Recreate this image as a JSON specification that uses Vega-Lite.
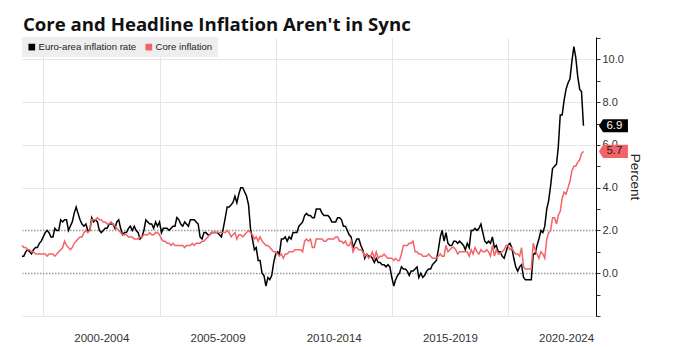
{
"$schema": "https://vega.github.io/schema/vega-lite/v6.json",
"width": 574, "height": 279,
"autosize": {"type": "none"},
"padding": {"left": 22, "top": 37, "right": 79, "bottom": 31},
"background": "white",
"title": {"text": "Core and Headline Inflation Aren't in Sync", "anchor": "start", "frame": "group", "font": "Open Sans", "fontSize": 18.6, "fontWeight": "bold", "color": "#111111", "offset": 8, "baseline": "alphabetic", "dx": 1, "dy": 26},
"config": {"view": {"stroke": null}, "font": "Liberation Sans"},
"datasets": {"infl": [
{"d":"1999-01-31","h":0.8,"c":1.3},{"d":"1999-02-28","h":0.8,"c":1.2},{"d":"1999-03-31","h":1.0,"c":1.2},{"d":"1999-04-30","h":1.1,"c":1.1},{"d":"1999-05-31","h":1.0,"c":1.1},{"d":"1999-06-30","h":0.9,"c":1.0},{"d":"1999-07-31","h":1.1,"c":1.0},{"d":"1999-08-31","h":1.2,"c":0.9},{"d":"1999-09-30","h":1.2,"c":0.9},{"d":"1999-10-31","h":1.4,"c":0.9},{"d":"1999-11-30","h":1.5,"c":0.9},{"d":"1999-12-31","h":1.7,"c":0.9},
{"d":"2000-01-31","h":1.9,"c":0.9},{"d":"2000-02-28","h":2.0,"c":0.8},{"d":"2000-03-31","h":1.9,"c":0.9},{"d":"2000-04-30","h":1.7,"c":0.9},{"d":"2000-05-31","h":1.7,"c":0.9},{"d":"2000-06-30","h":2.1,"c":0.8},{"d":"2000-07-31","h":2.0,"c":0.9},{"d":"2000-08-31","h":2.0,"c":1.0},{"d":"2000-09-30","h":2.5,"c":1.1},{"d":"2000-10-31","h":2.4,"c":1.2},{"d":"2000-11-30","h":2.5,"c":1.5},{"d":"2000-12-31","h":2.5,"c":1.3},
{"d":"2001-01-31","h":2.0,"c":1.2},{"d":"2001-02-28","h":2.2,"c":1.1},{"d":"2001-03-31","h":2.4,"c":1.2},{"d":"2001-04-30","h":2.8,"c":1.4},{"d":"2001-05-31","h":3.1,"c":1.5},{"d":"2001-06-30","h":2.8,"c":1.6},{"d":"2001-07-31","h":2.5,"c":1.7},{"d":"2001-08-31","h":2.3,"c":1.7},{"d":"2001-09-30","h":2.2,"c":1.9},{"d":"2001-10-31","h":2.3,"c":2.0},{"d":"2001-11-30","h":2.0,"c":1.9},{"d":"2001-12-31","h":2.0,"c":2.0},
{"d":"2002-01-31","h":2.6,"c":2.5},{"d":"2002-02-28","h":2.4,"c":2.5},{"d":"2002-03-31","h":2.5,"c":2.5},{"d":"2002-04-30","h":2.4,"c":2.6},{"d":"2002-05-31","h":2.0,"c":2.5},{"d":"2002-06-30","h":1.9,"c":2.5},{"d":"2002-07-31","h":2.0,"c":2.4},{"d":"2002-08-31","h":2.1,"c":2.4},{"d":"2002-09-30","h":2.1,"c":2.3},{"d":"2002-10-31","h":2.3,"c":2.3},{"d":"2002-11-30","h":2.3,"c":2.4},{"d":"2002-12-31","h":2.3,"c":2.3},
{"d":"2003-01-31","h":2.1,"c":2.2},{"d":"2003-02-28","h":2.4,"c":2.1},{"d":"2003-03-31","h":2.5,"c":2.0},{"d":"2003-04-30","h":2.1,"c":1.9},{"d":"2003-05-31","h":1.8,"c":1.8},{"d":"2003-06-30","h":1.9,"c":1.8},{"d":"2003-07-31","h":1.9,"c":1.8},{"d":"2003-08-31","h":2.1,"c":1.7},{"d":"2003-09-30","h":2.2,"c":1.7},{"d":"2003-10-31","h":2.0,"c":1.7},{"d":"2003-11-30","h":2.2,"c":1.6},{"d":"2003-12-31","h":2.0,"c":1.6},
{"d":"2004-01-31","h":1.9,"c":1.6},{"d":"2004-02-28","h":1.6,"c":1.7},{"d":"2004-03-31","h":1.7,"c":1.7},{"d":"2004-04-30","h":2.0,"c":1.8},{"d":"2004-05-31","h":2.5,"c":1.8},{"d":"2004-06-30","h":2.4,"c":1.8},{"d":"2004-07-31","h":2.3,"c":1.9},{"d":"2004-08-31","h":2.3,"c":1.8},{"d":"2004-09-30","h":2.1,"c":1.8},{"d":"2004-10-31","h":2.4,"c":1.9},{"d":"2004-11-30","h":2.2,"c":1.9},{"d":"2004-12-31","h":2.4,"c":1.8},
{"d":"2005-01-31","h":1.9,"c":1.6},{"d":"2005-02-28","h":2.1,"c":1.5},{"d":"2005-03-31","h":2.1,"c":1.5},{"d":"2005-04-30","h":2.1,"c":1.4},{"d":"2005-05-31","h":2.0,"c":1.4},{"d":"2005-06-30","h":2.1,"c":1.3},{"d":"2005-07-31","h":2.2,"c":1.4},{"d":"2005-08-31","h":2.2,"c":1.3},{"d":"2005-09-30","h":2.6,"c":1.3},{"d":"2005-10-31","h":2.5,"c":1.3},{"d":"2005-11-30","h":2.3,"c":1.3},{"d":"2005-12-31","h":2.2,"c":1.3},
{"d":"2006-01-31","h":2.4,"c":1.2},{"d":"2006-02-28","h":2.3,"c":1.3},{"d":"2006-03-31","h":2.2,"c":1.3},{"d":"2006-04-30","h":2.5,"c":1.3},{"d":"2006-05-31","h":2.5,"c":1.4},{"d":"2006-06-30","h":2.5,"c":1.3},{"d":"2006-07-31","h":2.4,"c":1.4},{"d":"2006-08-31","h":2.3,"c":1.4},{"d":"2006-09-30","h":1.7,"c":1.4},{"d":"2006-10-31","h":1.6,"c":1.5},{"d":"2006-11-30","h":1.9,"c":1.5},{"d":"2006-12-31","h":1.9,"c":1.6},
{"d":"2007-01-31","h":1.8,"c":1.7},{"d":"2007-02-28","h":1.8,"c":1.8},{"d":"2007-03-31","h":1.9,"c":1.9},{"d":"2007-04-30","h":1.9,"c":1.9},{"d":"2007-05-31","h":1.9,"c":1.9},{"d":"2007-06-30","h":1.9,"c":1.9},{"d":"2007-07-31","h":1.8,"c":1.9},{"d":"2007-08-31","h":1.7,"c":1.9},{"d":"2007-09-30","h":2.1,"c":1.9},{"d":"2007-10-31","h":2.6,"c":1.9},{"d":"2007-11-30","h":3.1,"c":2.0},{"d":"2007-12-31","h":3.1,"c":1.9},
{"d":"2008-01-31","h":3.2,"c":1.7},{"d":"2008-02-28","h":3.3,"c":1.8},{"d":"2008-03-31","h":3.6,"c":1.9},{"d":"2008-04-30","h":3.3,"c":1.6},{"d":"2008-05-31","h":3.7,"c":1.8},{"d":"2008-06-30","h":4.0,"c":1.8},{"d":"2008-07-31","h":4.0,"c":1.7},{"d":"2008-08-31","h":3.8,"c":1.8},{"d":"2008-09-30","h":3.6,"c":1.9},{"d":"2008-10-31","h":3.2,"c":2.0},{"d":"2008-11-30","h":2.1,"c":1.9},{"d":"2008-12-31","h":1.6,"c":1.8},
{"d":"2009-01-31","h":1.1,"c":1.6},{"d":"2009-02-28","h":1.2,"c":1.7},{"d":"2009-03-31","h":0.6,"c":1.5},{"d":"2009-04-30","h":0.6,"c":1.7},{"d":"2009-05-31","h":0.0,"c":1.5},{"d":"2009-06-30","h":-0.1,"c":1.4},{"d":"2009-07-31","h":-0.6,"c":1.3},{"d":"2009-08-31","h":-0.2,"c":1.3},{"d":"2009-09-30","h":-0.3,"c":1.2},{"d":"2009-10-31","h":-0.1,"c":1.1},{"d":"2009-11-30","h":0.5,"c":1.0},{"d":"2009-12-31","h":0.9,"c":1.0},
{"d":"2010-01-31","h":1.0,"c":0.9},{"d":"2010-02-28","h":0.9,"c":0.8},{"d":"2010-03-31","h":1.6,"c":0.9},{"d":"2010-04-30","h":1.6,"c":0.7},{"d":"2010-05-31","h":1.7,"c":0.9},{"d":"2010-06-30","h":1.5,"c":0.9},{"d":"2010-07-31","h":1.7,"c":1.0},{"d":"2010-08-31","h":1.6,"c":1.0},{"d":"2010-09-30","h":1.9,"c":1.0},{"d":"2010-10-31","h":1.9,"c":1.1},{"d":"2010-11-30","h":1.9,"c":1.1},{"d":"2010-12-31","h":2.2,"c":1.1},
{"d":"2011-01-31","h":2.3,"c":1.1},{"d":"2011-02-28","h":2.4,"c":1.0},{"d":"2011-03-31","h":2.7,"c":1.5},{"d":"2011-04-30","h":2.8,"c":1.6},{"d":"2011-05-31","h":2.7,"c":1.5},{"d":"2011-06-30","h":2.7,"c":1.6},{"d":"2011-07-31","h":2.6,"c":1.2},{"d":"2011-08-31","h":2.6,"c":1.2},{"d":"2011-09-30","h":3.0,"c":1.6},{"d":"2011-10-31","h":3.0,"c":1.6},{"d":"2011-11-30","h":3.0,"c":1.6},{"d":"2011-12-31","h":2.8,"c":1.6},
{"d":"2012-01-31","h":2.7,"c":1.5},{"d":"2012-02-28","h":2.7,"c":1.5},{"d":"2012-03-31","h":2.7,"c":1.6},{"d":"2012-04-30","h":2.6,"c":1.6},{"d":"2012-05-31","h":2.4,"c":1.6},{"d":"2012-06-30","h":2.4,"c":1.6},{"d":"2012-07-31","h":2.4,"c":1.7},{"d":"2012-08-31","h":2.6,"c":1.7},{"d":"2012-09-30","h":2.6,"c":1.5},{"d":"2012-10-31","h":2.5,"c":1.5},{"d":"2012-11-30","h":2.2,"c":1.4},{"d":"2012-12-31","h":2.2,"c":1.5},
{"d":"2013-01-31","h":2.0,"c":1.3},{"d":"2013-02-28","h":1.8,"c":1.3},{"d":"2013-03-31","h":1.7,"c":1.5},{"d":"2013-04-30","h":1.2,"c":1.0},{"d":"2013-05-31","h":1.4,"c":1.2},{"d":"2013-06-30","h":1.6,"c":1.2},{"d":"2013-07-31","h":1.6,"c":1.1},{"d":"2013-08-31","h":1.3,"c":1.1},{"d":"2013-09-30","h":1.1,"c":1.0},{"d":"2013-10-31","h":0.7,"c":0.8},{"d":"2013-11-30","h":0.9,"c":0.9},{"d":"2013-12-31","h":0.8,"c":0.7},
{"d":"2014-01-31","h":0.8,"c":0.8},{"d":"2014-02-28","h":0.7,"c":1.0},{"d":"2014-03-31","h":0.5,"c":0.7},{"d":"2014-04-30","h":0.7,"c":1.0},{"d":"2014-05-31","h":0.5,"c":0.7},{"d":"2014-06-30","h":0.5,"c":0.8},{"d":"2014-07-31","h":0.4,"c":0.8},{"d":"2014-08-31","h":0.4,"c":0.9},{"d":"2014-09-30","h":0.3,"c":0.8},{"d":"2014-10-31","h":0.4,"c":0.7},{"d":"2014-11-30","h":0.3,"c":0.7},{"d":"2014-12-31","h":-0.2,"c":0.7},
{"d":"2015-01-31","h":-0.6,"c":0.6},{"d":"2015-02-28","h":-0.3,"c":0.7},{"d":"2015-03-31","h":-0.1,"c":0.6},{"d":"2015-04-30","h":0.0,"c":0.6},{"d":"2015-05-31","h":0.3,"c":0.9},{"d":"2015-06-30","h":0.2,"c":1.3},{"d":"2015-07-31","h":0.2,"c":1.3},{"d":"2015-08-31","h":0.1,"c":1.3},{"d":"2015-09-30","h":-0.1,"c":1.4},{"d":"2015-10-31","h":0.1,"c":1.4},{"d":"2015-11-30","h":0.1,"c":1.5},{"d":"2015-12-31","h":0.2,"c":1.0},
{"d":"2016-01-31","h":0.3,"c":1.0},{"d":"2016-02-28","h":-0.2,"c":0.9},{"d":"2016-03-31","h":0.0,"c":0.9},{"d":"2016-04-30","h":-0.2,"c":0.8},{"d":"2016-05-31","h":-0.1,"c":0.8},{"d":"2016-06-30","h":0.1,"c":0.8},{"d":"2016-07-31","h":0.2,"c":0.9},{"d":"2016-08-31","h":0.2,"c":0.8},{"d":"2016-09-30","h":0.4,"c":0.7},{"d":"2016-10-31","h":0.5,"c":0.7},{"d":"2016-11-30","h":0.6,"c":0.7},{"d":"2016-12-31","h":1.1,"c":0.8},
{"d":"2017-01-31","h":1.7,"c":0.9},{"d":"2017-02-28","h":2.0,"c":0.8},{"d":"2017-03-31","h":1.5,"c":0.8},{"d":"2017-04-30","h":1.9,"c":1.3},{"d":"2017-05-31","h":1.4,"c":1.0},{"d":"2017-06-30","h":1.3,"c":1.1},{"d":"2017-07-31","h":1.3,"c":1.2},{"d":"2017-08-31","h":1.5,"c":1.2},{"d":"2017-09-30","h":1.5,"c":1.1},{"d":"2017-10-31","h":1.4,"c":0.9},{"d":"2017-11-30","h":1.5,"c":1.0},{"d":"2017-12-31","h":1.4,"c":1.0},
{"d":"2018-01-31","h":1.3,"c":1.0},{"d":"2018-02-28","h":1.1,"c":1.0},{"d":"2018-03-31","h":1.4,"c":1.0},{"d":"2018-04-30","h":1.2,"c":0.8},{"d":"2018-05-31","h":2.0,"c":1.1},{"d":"2018-06-30","h":2.0,"c":0.9},{"d":"2018-07-31","h":2.1,"c":1.2},{"d":"2018-08-31","h":2.0,"c":1.0},{"d":"2018-09-30","h":2.1,"c":0.9},{"d":"2018-10-31","h":2.3,"c":1.1},{"d":"2018-11-30","h":1.9,"c":1.0},{"d":"2018-12-31","h":1.5,"c":1.0},
{"d":"2019-01-31","h":1.4,"c":1.1},{"d":"2019-02-28","h":1.5,"c":1.0},{"d":"2019-03-31","h":1.4,"c":0.8},{"d":"2019-04-30","h":1.7,"c":1.3},{"d":"2019-05-31","h":1.2,"c":0.8},{"d":"2019-06-30","h":1.3,"c":1.1},{"d":"2019-07-31","h":1.0,"c":0.9},{"d":"2019-08-31","h":1.0,"c":0.9},{"d":"2019-09-30","h":0.8,"c":1.0},{"d":"2019-10-31","h":0.7,"c":1.1},{"d":"2019-11-30","h":1.0,"c":1.3},{"d":"2019-12-31","h":1.3,"c":1.3},
{"d":"2020-01-31","h":1.4,"c":1.1},{"d":"2020-02-28","h":1.2,"c":1.2},{"d":"2020-03-31","h":0.7,"c":1.0},{"d":"2020-04-30","h":0.3,"c":0.9},{"d":"2020-05-31","h":0.1,"c":0.9},{"d":"2020-06-30","h":0.3,"c":0.8},{"d":"2020-07-31","h":0.4,"c":1.2},{"d":"2020-08-31","h":-0.2,"c":0.3},{"d":"2020-09-30","h":-0.3,"c":0.2},{"d":"2020-10-31","h":-0.3,"c":0.2},{"d":"2020-11-30","h":-0.3,"c":0.2},{"d":"2020-12-31","h":-0.3,"c":0.2},
{"d":"2021-01-31","h":0.9,"c":1.4},{"d":"2021-02-28","h":0.9,"c":1.1},{"d":"2021-03-31","h":1.3,"c":0.9},{"d":"2021-04-30","h":1.6,"c":0.7},{"d":"2021-05-31","h":2.0,"c":1.0},{"d":"2021-06-30","h":1.9,"c":0.9},{"d":"2021-07-31","h":2.2,"c":0.7},{"d":"2021-08-31","h":3.0,"c":1.6},{"d":"2021-09-30","h":3.4,"c":1.9},{"d":"2021-10-31","h":4.1,"c":2.0},{"d":"2021-11-30","h":4.9,"c":2.6},{"d":"2021-12-31","h":5.0,"c":2.6},
{"d":"2022-01-31","h":5.1,"c":2.3},{"d":"2022-02-28","h":5.9,"c":2.7},{"d":"2022-03-31","h":7.4,"c":2.9},{"d":"2022-04-30","h":7.4,"c":3.5},{"d":"2022-05-31","h":8.1,"c":3.8},{"d":"2022-06-30","h":8.6,"c":3.7},{"d":"2022-07-31","h":8.9,"c":4.0},{"d":"2022-08-31","h":9.1,"c":4.3},{"d":"2022-09-30","h":9.9,"c":4.8},{"d":"2022-10-31","h":10.6,"c":5.0},{"d":"2022-11-30","h":10.1,"c":5.0},{"d":"2022-12-31","h":9.2,"c":5.2},
{"d":"2023-01-31","h":8.6,"c":5.3},{"d":"2023-02-28","h":8.5,"c":5.6},{"d":"2023-03-31","h":6.9,"c":5.7}
]},
"data": {"name": "infl"},
"transform": [{"fold": ["h", "c"], "as": ["key", "value"]}],
"encoding": {
  "x": {"field": "d", "type": "temporal",
    "scale": {"domain": [{"year": 1999, "month": 1, "date": 31, "utc": true}, {"year": 2023, "month": 10, "date": 14, "utc": true}]},
    "axis": {"values": [{"year": 2000, "month": 1, "date": 1, "utc": true}, {"year": 2005, "month": 1, "date": 1, "utc": true}, {"year": 2010, "month": 1, "date": 1, "utc": true}, {"year": 2015, "month": 1, "date": 1, "utc": true}, {"year": 2020, "month": 1, "date": 1, "utc": true}],
      "labelExpr": "utcFormat(datum.value, '%Y') + '-' + (utcyear(datum.value) + 4)",
      "labelOffset": 58, "grid": true, "gridColor": "#e6e6e6", "ticks": false, "domain": false,
      "labelPadding": 16, "labelFontSize": 11.5, "labelColor": "#333333", "title": null, "labelFlush": false, "labelOverlap": false}},
  "y": {"field": "value", "type": "quantitative",
    "scale": {"domain": [-2, 11.05], "nice": false, "zero": false},
    "axis": {"orient": "right", "values": [-2, -1, 0, 1, 2, 3, 4, 5, 6, 7, 8, 9, 10, 11],
      "labelExpr": "datum.value >= 0 && datum.value % 2 == 0 ? format(datum.value, '.1f') : ''",
      "grid": true,
      "gridColor": {"condition": {"test": "datum.value == 0 || datum.value == 2", "value": "#9a9a9a"}, "value": "#e6e6e6"},
      "gridDash": {"condition": {"test": "datum.value == 0 || datum.value == 2", "value": [1.5, 1.5]}, "value": []},
      "gridWidth": {"condition": {"test": "datum.value == 0 || datum.value == 2", "value": 1.4}, "value": 1},
      "gridOpacity": {"condition": {"test": "datum.value % 2 != 0", "value": 0}, "value": 1},
      "domainColor": "#000000", "domainWidth": 1, "tickColor": "#333333", "tickSize": 4, "labelPadding": 2,
      "labelFontSize": 11, "labelColor": "#333333", "labelBound": false, "labelOverlap": false,
      "title": "Percent", "titleFontSize": 13.5, "titleFontWeight": "normal", "titleColor": "#222222", "titlePadding": 4}}
},
"layer": [
  {"mark": {"type": "line", "strokeWidth": 1.5},
   "encoding": {"color": {"field": "key", "type": "nominal",
     "scale": {"domain": ["h", "c"], "range": ["#000000", "#f26468"]},
     "legend": {"orient": "top-left", "offset": 0, "direction": "horizontal", "title": null,
       "fillColor": "#eeeeee", "padding": 5, "symbolType": "square", "symbolSize": 45,
       "labelFontSize": 9.6, "labelColor": "#222222", "labelOffset": 2, "columnPadding": 7,
       "labelExpr": "datum.value == 'h' ? 'Euro-area inflation rate' : 'Core inflation'",
       "encode": {"symbols": {"update": {"fill": {"scale": "color", "field": "value"}, "strokeWidth": {"value": 0}}}}}}}},
  {"transform": [{"filter": {"field": "d", "equal": {"year": 2023, "month": 3, "date": 31, "utc": true}}}],
   "mark": {"type": "point", "shape": "M-1,0L-0.72,-0.45L1,-0.45L1,0.45L-0.72,0.45Z", "size": 841, "filled": true, "opacity": 1, "strokeWidth": 0, "xOffset": 30},
   "encoding": {"color": {"condition": {"test": "datum.key == 'h'", "value": "#000000"}, "value": "#f26468"}}},
  {"transform": [{"filter": {"field": "d", "equal": {"year": 2023, "month": 3, "date": 31, "utc": true}}}],
   "mark": {"type": "text", "xOffset": 31, "fontSize": 11.5, "align": "center", "baseline": "middle"},
   "encoding": {"text": {"field": "value", "format": ".1f"},
     "color": {"condition": {"test": "datum.key == 'h'", "value": "#ffffff"}, "value": "#222222"}}}
]
}
